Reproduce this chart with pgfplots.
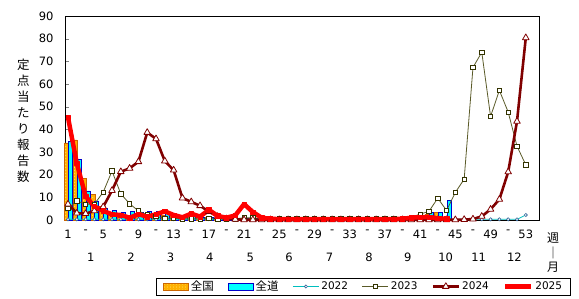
\documentclass[border=0pt]{standalone}
\usepackage{fontspec}
\setmainfont{DejaVu Sans}
\newfontfamily\jp{Noto Sans CJK JP}
\usepackage{pgfplots}
\pgfplotsset{compat=1.18}
\usepackage{pgfplotstable}
\usetikzlibrary{patterns}

\definecolor{natfill}{RGB}{255,176,0}
\definecolor{natdot}{RGB}{255,238,120}
\definecolor{natdraw}{RGB}{204,102,0}
\definecolor{dofill}{RGB}{0,255,255}
\definecolor{dodraw}{RGB}{0,0,204}
\definecolor{c22line}{RGB}{0,190,190}
\definecolor{c22mark}{RGB}{51,102,153}
\definecolor{c23}{RGB}{90,90,40}
\definecolor{c23m}{RGB}{51,51,0}
\definecolor{c24}{RGB}{128,0,0}
\definecolor{c25}{RGB}{255,0,0}

\pgfplotsset{
  barleg/.style={legend image code/.code={\draw[##1] (0bp,-3.5bp) rectangle (25bp,3.5bp);}},
  lineleg/.style={legend image code/.code={\draw[mark repeat=2,mark phase=2,##1] plot coordinates {(0bp,0bp) (13bp,0bp) (26bp,0bp)};}},
}

\pgfplotstableread{
w v
1 34
2 35.3
3 18.4
4 11.3
5 6
6 3.5
7 2.5
8 2
9 2
10 2
11 2
12 2
13 1.5
14 1.5
15 1.2
16 1
17 1
18 0.8
19 0.8
20 0.8
21 0.8
22 0.6
23 0.4
24 0.4
25 0.4
26 0.4
27 0.4
28 0.4
29 0.4
30 0.4
31 0.4
32 0.4
33 0.4
34 0.4
35 0.4
36 0.4
37 0.4
38 0.4
39 0.8
40 1.2
41 1.8
42 2.5
43 3.3
}\national

\pgfplotstableread{
w v
1 34.8
2 26.8
3 12.8
4 8.4
5 5
6 4.4
7 3.4
8 3.8
9 3.5
10 3.8
11 3.8
12 3.5
13 2.5
14 2
15 1.5
16 1.2
17 1
18 0.8
19 0.6
20 0.6
21 0.6
22 0.5
23 0.3
24 0.3
25 0.3
26 0.3
27 0.3
28 0.3
29 0.3
30 0.3
31 0.3
32 0.3
33 0.3
34 0.3
35 0.3
36 0.3
37 0.3
38 0.3
39 0.5
40 1
41 1.5
42 3.2
43 3.5
44 8.7
}\hokkaido

\pgfplotstableread{
w v
1 0.3
2 0.3
3 0.3
4 0.3
5 0.3
6 0.3
7 0.3
8 0.3
9 0.3
10 0.3
11 0.3
12 0.3
13 0.3
14 0.3
15 0.3
16 0.3
17 0.3
18 0.3
19 0.3
20 0.3
21 0.3
22 0.3
23 0.3
24 0.3
25 0.3
26 0.3
27 0.3
28 0.3
29 0.3
30 0.3
31 0.3
32 0.3
33 0.3
34 0.3
35 0.3
36 0.3
37 0.3
38 0.3
39 0.3
40 0.3
41 0.3
42 0.3
43 0.3
44 0.3
45 0.3
46 0.3
47 0.3
48 0.3
49 0.3
50 0.3
51 0.3
52 0.3
53 2.2
}\yrA

\pgfplotstableread{
w v
1 5.1
2 8.4
3 7
4 7
5 12.3
6 21.6
7 11.5
8 7.2
9 4
10 2.2
11 1.5
12 0.8
13 0.8
14 0.5
15 0.5
16 0.5
17 0.6
18 0.5
19 0.5
20 0.5
21 1
22 1
23 0.6
24 0.8
25 0.8
26 0.8
27 0.8
28 0.8
29 0.8
30 0.8
31 0.8
32 0.8
33 0.8
34 0.8
35 0.8
36 0.8
37 0.8
38 0.8
39 0.8
40 1.2
41 2.6
42 3.8
43 9.6
44 4.2
45 12.2
46 18
47 67.3
48 74
49 45.7
50 57.2
51 47.6
52 32.6
53 24.3
}\yrB

\pgfplotstableread{
w v
1 7
2 3
3 2.8
4 4
5 5.8
6 13
7 21.3
8 22.8
9 25.7
10 38.6
11 35.8
12 26
13 22
14 9.7
15 8
16 6.3
17 3.7
18 1.5
19 0.5
20 0.3
21 0.1
22 0.1
23 0.1
24 0.1
25 0.1
26 0.1
27 0.1
28 0.1
29 0.1
30 0.1
31 0.1
32 0.1
33 0.1
34 0.1
35 0.1
36 0.1
37 0.1
38 0.1
39 0.1
40 0.1
41 0.1
42 0.1
43 0.1
44 0.1
45 0.1
46 0.2
47 0.4
48 1.6
49 4.7
50 9.1
51 21.2
52 43.5
53 80.4
}\yrC

\pgfplotstableread{
w v
1 45.3
2 25
3 10.5
4 6
5 4
6 2.5
7 2.2
8 1
9 2.5
10 1.5
11 2.5
12 3.8
13 2.2
14 1.2
15 2.8
16 1.5
17 4.5
18 1.8
19 1
20 2
21 7
22 3.5
23 1
24 0.5
25 0.4
26 0.4
27 0.4
28 0.4
29 0.4
30 0.4
31 0.4
32 0.4
33 0.4
34 0.4
35 0.4
36 0.4
37 0.4
38 0.4
39 0.5
40 1
41 1.3
42 1.3
43 0.8
44 0.5
}\yrD

\begin{document}
\begin{tikzpicture}
\begin{axis}[
  scale only axis, width=474bp, height=204bp,
  xmin=0.66, xmax=54.5, ymin=0, ymax=90,
  clip=false,
  axis line style={line width=0.8bp},
  ytick={0,10,...,90},
  ytick pos=left,
  tick align=inside,
  major tick length=4bp,
  xtick={1,3,...,53},
  xticklabels={1,-,5,-,9,-,13,-,17,-,21,-,25,-,29,-,33,-,37,-,41,-,45,-,49,-,53},
  xtick style={draw=none},
  /pgf/number format/assume math mode=true,
  tick label style={font=\fontsize{11.5bp}{13bp}\selectfont},
  xticklabel style={yshift=-6.5bp},
  yticklabel style={xshift=-8bp},
  legend columns=6,
  legend cell align=left,
  legend style={at={(axis description cs:0.630,-0.326)}, anchor=center,
    draw=black, line width=0.6bp, font=\fontsize{10.5bp}{12bp}\selectfont,
    inner xsep=6.5bp, inner ysep=1bp,
    /tikz/every even column/.append style={column sep=12bp}},
]
\addplot[ybar, bar width=0.46, bar shift=-0.18, fill=natfill, draw=natdraw, line width=0.6bp,
  postaction={pattern=dots, pattern color=natdot}, barleg]
  table[x=w,y=v]{\national};
\addlegendentry{\jp\fontsize{11.5bp}{12bp}\selectfont 全国}
\addplot[ybar, bar width=0.46, bar shift=0.28, fill=dofill, draw=dodraw, line width=0.8bp, barleg]
  table[x=w,y=v]{\hokkaido};
\addlegendentry{\jp\fontsize{11.5bp}{12bp}\selectfont 全道}
\addplot[color=c22line, line width=0.8bp, mark=*, mark size=1.6bp,
  mark options={fill=white, draw=c22mark, line width=0.6bp}, lineleg]
  table[x=w,y=v]{\yrA};
\addlegendentry{2022}
\addplot[color=c23, line width=0.8bp, mark=square*, mark size=2.2bp,
  mark options={fill=white, draw=c23m, line width=0.7bp}, lineleg]
  table[x=w,y=v]{\yrB};
\addlegendentry{2023}
\addplot[color=c24, line width=2.6bp, line join=round, mark=triangle*, mark size=3.8bp,
  mark options={fill=white, draw=c24, line width=0.8bp}, lineleg]
  table[x=w,y=v]{\yrC};
\addlegendentry{2024}
\addplot[color=c25, line width=4.5bp, line join=round, mark=square*, mark size=2.2bp,
  mark options={fill=c25, draw=c25, line width=0.5bp}, lineleg]
  table[x=w,y=v]{\yrD};
\addlegendentry{2025}

\coordinate (sw) at (rel axis cs:0,0);
\coordinate (ne) at (rel axis cs:1,1);

\begin{scope}[every node/.style={font=\fontsize{11.5bp}{13bp}\selectfont}]
\node at ([yshift=-37bp]axis cs:3.58,0) {1};
\node at ([yshift=-37bp]axis cs:8.15,0) {2};
\node at ([yshift=-37bp]axis cs:12.66,0) {3};
\node at ([yshift=-37bp]axis cs:17.1,0) {4};
\node at ([yshift=-37bp]axis cs:21.7,0) {5};
\node at ([yshift=-37bp]axis cs:26.1,0) {6};
\node at ([yshift=-37bp]axis cs:30.7,0) {7};
\node at ([yshift=-37bp]axis cs:35.2,0) {8};
\node at ([yshift=-37bp]axis cs:39.6,0) {9};
\node at ([yshift=-37bp]axis cs:43.9,0) {10};
\node at ([yshift=-37bp]axis cs:47.65,0) {11};
\node at ([yshift=-37bp]axis cs:51.7,0) {12};
\end{scope}

\node[align=center, font=\jp\fontsize{12.5bp}{16bp}\selectfont] at ([xshift=-41.7bp]rel axis cs:0,0.485) {定\\点\\当\\た\\り\\報\\告\\数};
\node[align=center, font=\jp\fontsize{12bp}{14.5bp}\selectfont] at ([xshift=14bp,yshift=-33bp]rel axis cs:1,0) {週\\｜\\月};
\end{axis}
\pgfresetboundingbox
\path[use as bounding box] ([xshift=-65bp,yshift=-79bp]sw) rectangle ([xshift=40bp,yshift=16bp]ne);
\end{tikzpicture}
\end{document}
